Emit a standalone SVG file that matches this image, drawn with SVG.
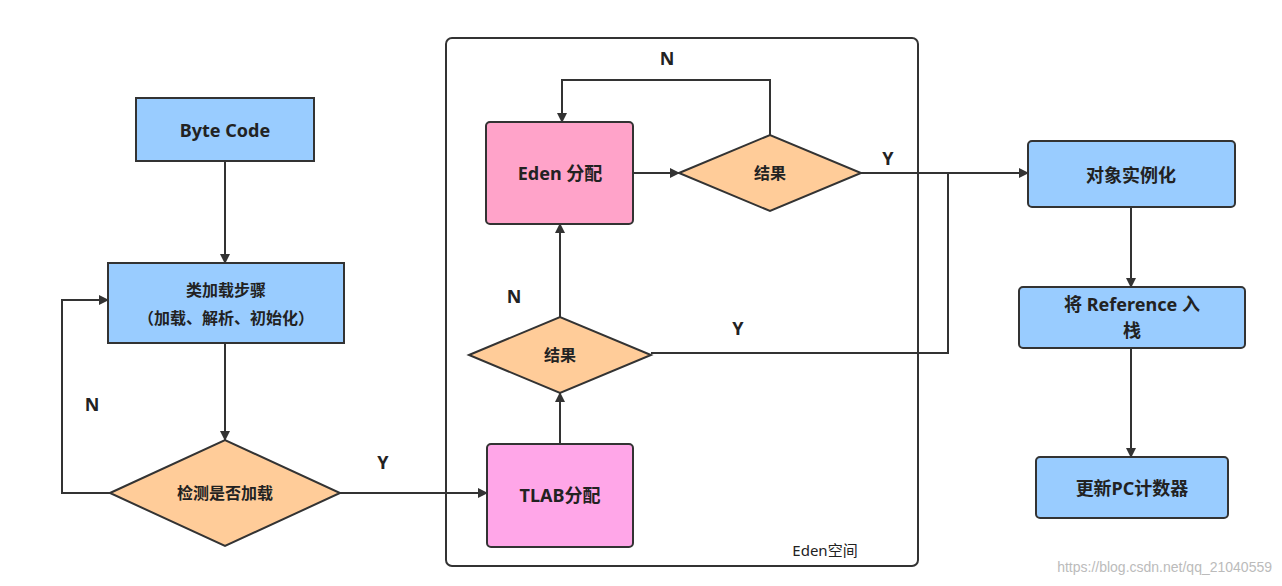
<svg xmlns="http://www.w3.org/2000/svg" width="1282" height="586" viewBox="0 0 1282 586">
<defs>
<marker id="ah" markerWidth="10" markerHeight="10" refX="9" refY="5" orient="auto" markerUnits="userSpaceOnUse"><path d="M0,0 L10,5 L0,10 Z" fill="#333"/></marker>
<style>
.b{fill:#99CCFF;stroke:#333;stroke-width:2}
.d{fill:#FFCC99;stroke:#333;stroke-width:2}
.t{font-family:"Noto Sans","Noto Sans CJK SC",sans-serif;font-weight:bold;font-size:18px;fill:#222;text-anchor:middle;dominant-baseline:central}
.c{fill:none;stroke:#333;stroke-width:2;marker-end:url(#ah)}
.n{fill:none;stroke:#333;stroke-width:2}
</style>
</defs>
<rect width="1282" height="586" fill="#fff"/>
<g id="eden-space"><rect x="446" y="38" width="472" height="528" rx="6" fill="none" stroke="#333" stroke-width="2"/>
<text x="825" y="550" class="t" style="font-weight:normal;font-size:15px">Eden空间</text></g>
<g id="connectors">
<path class="c" d="M225,161 V263"/>
<path class="c" d="M225,343 V440"/>
<path class="c" d="M110,493 H62 V300 H108"/>
<path class="c" d="M340,493 H487"/>
<path class="c" d="M560,444 V393"/>
<path class="c" d="M560,317 V224"/>
<path class="c" d="M633,173 H679"/>
<path class="c" d="M770,135 V80 H562 V122"/>
<path class="c" d="M861,173 H1028"/>
<path class="n" d="M651,353 H948 V173"/>
<path class="c" d="M1131,207 V287"/>
<path class="c" d="M1131,348 V457"/>
<text x="92" y="404" class="t">N</text>
<text x="383" y="462" class="t">Y</text>
<text x="514" y="296" class="t">N</text>
<text x="667" y="58" class="t">N</text>
<text x="888" y="158" class="t">Y</text>
<text x="738" y="328" class="t">Y</text>
</g>
<g id="bytecode"><rect class="b" x="136" y="98" width="178" height="63"/><text x="225" y="130" class="t">Byte Code</text></g>
<g id="classload"><rect class="b" x="108" y="263" width="236" height="80"/><text x="226" y="290" class="t" style="font-size:16px">类加载步骤</text><text x="226" y="318" class="t" style="font-size:16px">（加载、解析、初始化）</text></g>
<g id="check"><polygon class="d" points="110,493 225,440 340,493 225,546"/><text x="225" y="493" class="t" style="font-size:16px">检测是否加载</text></g>
<g id="tlab"><rect x="487" y="444" width="146" height="103" rx="4" fill="#FFA6E8" stroke="#333" stroke-width="2"/><text x="560" y="495" class="t">TLAB分配</text></g>
<g id="result2"><polygon class="d" points="469,355 560,317 651,355 560,393"/><text x="560" y="355" class="t" style="font-size:16px">结果</text></g>
<g id="eden"><rect x="486" y="122" width="147" height="102" rx="4" fill="#FFA3C9" stroke="#333" stroke-width="2"/><text x="560" y="173" class="t">Eden 分配</text></g>
<g id="result1"><polygon class="d" points="679,173 770,135 861,173 770,211"/><text x="770" y="173" class="t" style="font-size:16px">结果</text></g>
<g id="instance"><rect class="b" x="1028" y="141" width="207" height="66" rx="4"/><text x="1131" y="175" class="t">对象实例化</text></g>
<g id="push"><rect class="b" x="1019" y="287" width="226" height="61" rx="4"/><text x="1132" y="304" class="t">将 Reference 入</text><text x="1132" y="330" class="t">栈</text></g>
<g id="pc"><rect class="b" x="1036" y="457" width="192" height="61" rx="4"/><text x="1132" y="488" class="t">更新PC计数器</text></g>
<text x="1272" y="572" style="font-family:'Liberation Sans',sans-serif;font-size:14px;fill:#bbb;text-anchor:end">https://blog.csdn.net/qq_21040559</text>
</svg>
